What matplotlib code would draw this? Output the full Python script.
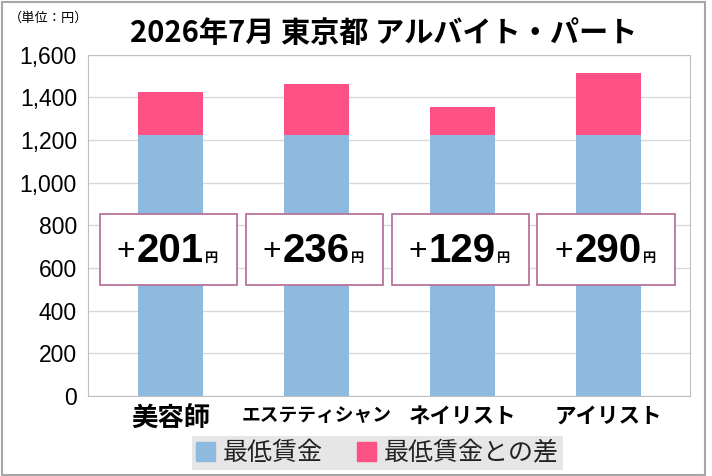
import matplotlib
matplotlib.use('Agg')
import matplotlib.pyplot as plt
import matplotlib.patches as mpatches

plt.rcParams['font.family'] = ['Noto Sans CJK JP', 'DejaVu Sans']

# data
categories = ['美容師', 'エステティシャン', 'ネイリスト', 'アイリスト']
min_wage = [1226, 1226, 1226, 1226]
wage_diff = [201, 236, 129, 290]
y_ticks = [0, 200, 400, 600, 800, 1000, 1200, 1400, 1600]

color_base = '#8fbadf'
color_diff = '#fd5085'
box_edge = '#b8739c'

fig = plt.figure(figsize=(7.12, 4.76), dpi=100)
ax = fig.add_axes([0.1236, 0.168, 0.845, 0.717])

x = list(range(len(categories)))
ax.bar(x, min_wage, width=0.445, color=color_base, zorder=2, label='最低賃金')
ax.bar(x, wage_diff, width=0.445, bottom=min_wage, color=color_diff, zorder=2,
       label='最低賃金との差')

# value boxes over the bars
for xi, d in zip(x, wage_diff):
    ax.add_patch(mpatches.Rectangle((xi - 0.485, 520), 0.94, 333, facecolor='white',
                                    edgecolor=box_edge, linewidth=1.3, zorder=3))
    num = ax.text(xi, 680, str(d), ha='center', va='center', fontsize=29,
                  fontweight='bold', family='Liberation Sans', zorder=4)
    ax.annotate('+', xy=(0, 0.47), xycoords=num, xytext=(-1, 0), textcoords='offset points',
                ha='right', va='center', fontsize=23, family='Liberation Sans', zorder=4)
    ax.annotate('円', xy=(1, 0.14), xycoords=num, xytext=(1, 0), textcoords='offset points',
                ha='left', va='bottom', fontsize=9.5, fontweight='bold', zorder=4)

ax.set_xlim(-0.565, 3.558)
ax.set_ylim(0, 1600)
ax.set_yticks(y_ticks)
ax.set_yticklabels([f'{v:,}' for v in y_ticks], family='Liberation Sans', fontsize=16.5)
ax.set_xticks(x)
ax.set_xticklabels(categories, fontweight='bold')
for lbl, size in zip(ax.get_xticklabels(), [19, 13.5, 15.5, 15.5]):
    lbl.set_fontsize(size)
ax.tick_params(axis='both', length=0)
ax.tick_params(axis='y', pad=8)
ax.tick_params(axis='x', pad=7)
ax.grid(axis='y', color='#d9d9d9', linewidth=1, zorder=0)
for s in ax.spines.values():
    s.set_color('#bfbfbf')

fig.text(0.539, 0.931, '2026年7月 東京都 アルバイト・パート', ha='center', va='center',
         fontsize=21, fontweight='bold')
fig.text(0.012, 0.962, '（単位：円）', ha='left', va='center', fontsize=9.5)

handles = [mpatches.Patch(color=color_base, label='最低賃金'),
           mpatches.Patch(color=color_diff, label='最低賃金との差')]
leg = fig.legend(handles=handles, loc='center', bbox_to_anchor=(0.53, 0.048), ncol=2,
                 fontsize=18, frameon=True, fancybox=False, handlelength=0.76,
                 handleheight=0.76, handletextpad=0.3, columnspacing=1.4, borderpad=0.15,
                 borderaxespad=0, labelcolor='#222222')
leg.get_frame().set_facecolor('#e6e6e6')
leg.get_frame().set_edgecolor('none')
leg.get_frame().set_alpha(1)

# outer frame of the picture
fig.add_artist(mpatches.Rectangle((1.5 / 712, 1.5 / 476), 703.5 / 712, 472.5 / 476,
                                  transform=fig.transFigure, fill=False,
                                  edgecolor='#a6a6a6', linewidth=1.5))

fig.savefig('out.png', dpi=100)
